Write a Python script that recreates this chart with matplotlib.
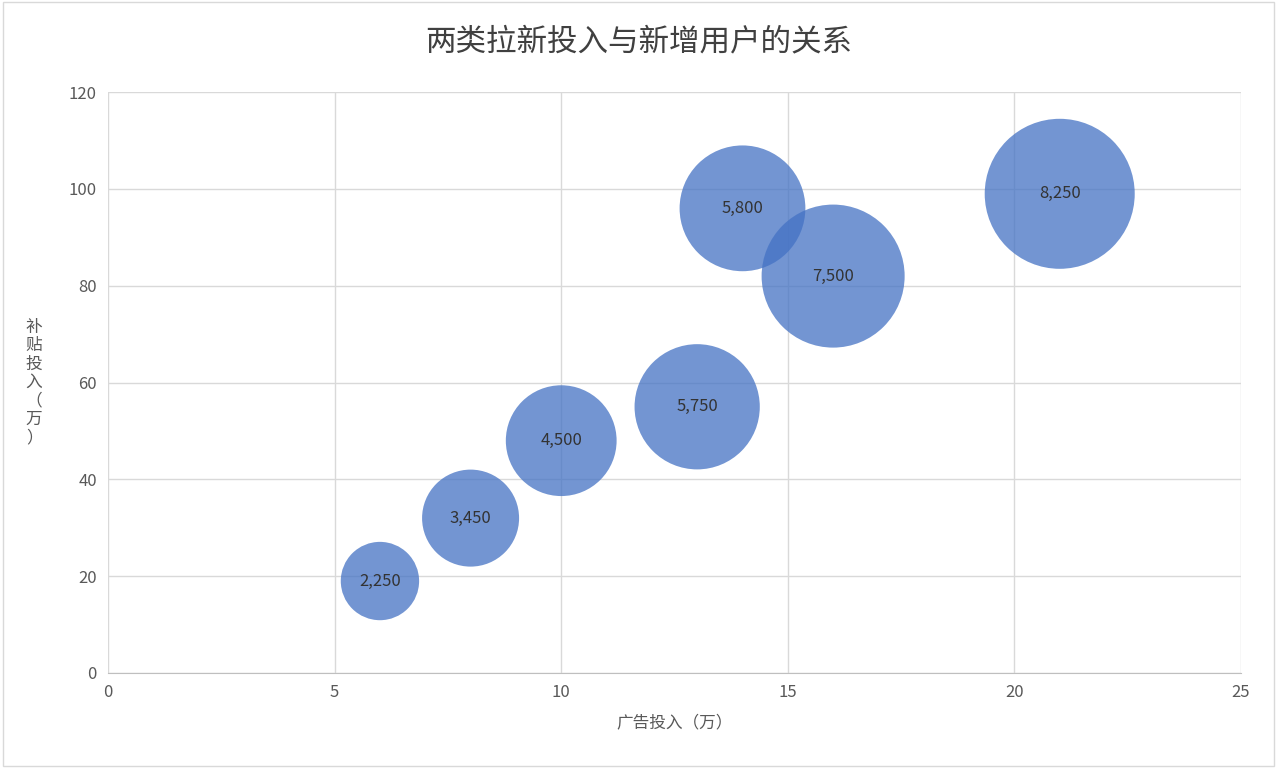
import matplotlib.pyplot as plt
from matplotlib.patches import Rectangle

plt.rcParams['font.family'] = ['Noto Sans CJK SC', 'DejaVu Sans']

# bubble data
ad_spend = [6, 8, 10, 13, 14, 16, 21]
subsidy = [19, 32, 48, 55, 96, 82, 99]
new_users = [2250, 3450, 4500, 5750, 5800, 7500, 8250]

fig = plt.figure(figsize=(12.77, 7.68), dpi=100)
ax = fig.add_axes([0.0846, 0.1237, 0.8872, 0.7563])

sizes = [v * 1.414 for v in new_users]
ax.scatter(ad_spend, subsidy, s=sizes, color='#4472C4', alpha=0.75,
           edgecolors='none', zorder=3)
for x, y, v in zip(ad_spend, subsidy, new_users):
    ax.text(x, y, f"{v:,}", ha='center', va='center', fontsize=12,
            color='#333333', zorder=4)

ax.set_xlim(0, 25)
ax.set_ylim(0, 120)
ax.set_xticks(range(0, 26, 5))
ax.set_yticks(range(0, 121, 20))
ax.grid(True, color='#D9D9D9', linewidth=1, zorder=0)
for s in ax.spines.values():
    s.set_visible(False)
ax.spines['bottom'].set_visible(True)
ax.spines['bottom'].set_color('#BFBFBF')
ax.tick_params(length=0, labelsize=12, colors='#595959', pad=8)

ax.set_xlabel('广告投入（万）', fontsize=12, color='#595959', labelpad=10)
ax.set_ylabel('补\n贴\n投\n入\n（\n万\n）', fontsize=12, color='#595959',
              rotation=0, va='center', labelpad=25, linespacing=1.1)
fig.suptitle('两类拉新投入与新增用户的关系', fontsize=22, color='#404040',
             y=0.965)

fig.patches.append(Rectangle((0.002, 0.002), 0.996, 0.996, transform=fig.transFigure,
                             fill=False, edgecolor='#D9D9D9', linewidth=1))
fig.savefig('out.png', dpi=100)
